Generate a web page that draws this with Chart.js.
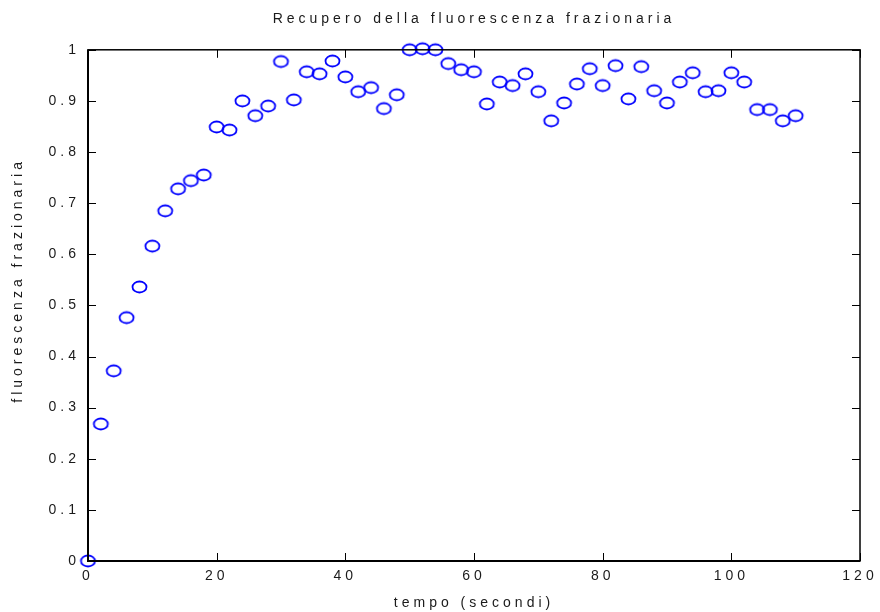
<!DOCTYPE html>
<html>
<head>
<meta charset="utf-8">
<script src="https://cdn.jsdelivr.net/npm/chart.js@4"></script>
<style>
  html, body { margin: 0; padding: 0; background: #fff; }
  #wrap { width: 880px; height: 612px; }
</style>
</head>
<body>
<div id="wrap"><canvas id="recoveryChart"></canvas></div>
<script>
// time (s) and fractional fluorescence recovery
const times = [0, 2, 4, 6, 8, 10, 12, 14, 16, 18, 20, 22, 24, 26, 28, 30, 32, 34, 36, 38,
    40, 42, 44, 46, 48, 50, 52, 54, 56, 58, 60, 62, 64, 66, 68, 70, 72, 74, 76, 78,
    80, 82, 84, 86, 88, 90, 92, 94, 96, 98, 100, 102, 104, 106, 108, 110];
const recovery = [0, 0.268, 0.372, 0.476, 0.536, 0.616, 0.685, 0.728, 0.744, 0.755,
    0.849, 0.843, 0.900, 0.871, 0.890, 0.977, 0.902, 0.957, 0.953, 0.978,
    0.947, 0.918, 0.926, 0.885, 0.912, 1.000, 1.002, 1.000, 0.973, 0.961,
    0.957, 0.894, 0.937, 0.930, 0.953, 0.918, 0.861, 0.896, 0.933, 0.963,
    0.930, 0.969, 0.904, 0.967, 0.920, 0.896, 0.937, 0.955, 0.918, 0.920,
    0.955, 0.937, 0.883, 0.883, 0.861, 0.871];

const xTicks = [0, 20, 40, 60, 80, 100, 120];
const yTicks = [0, 0.1, 0.2, 0.3, 0.4, 0.5, 0.6, 0.7, 0.8, 0.9, 1];

const yTitle = 'fluorescenza frazionaria';

const fontFamily = "'Liberation Sans Narrow', 'Liberation Sans', Arial, sans-serif";
const textColor = '#1a1a1a';

// matlab-like 'o' marker (slightly wide ellipse)
function makeMarker() {
    const c = document.createElement('canvas');
    c.width = 19;
    c.height = 16;
    const g = c.getContext('2d');
    g.strokeStyle = '#0000ff';
    g.lineWidth = 1.8;
    g.beginPath();
    g.ellipse(9.5, 8, 7, 5.5, 0, 0, Math.PI * 2);
    g.stroke();
    return c;
}

const spacingPlugin = {
    id: 'spacing',
    beforeLayout(chart) { chart.ctx.letterSpacing = '4px'; },
    beforeDraw(chart) { chart.ctx.letterSpacing = '4px'; }
};

// box around the axes with inward ticks, plus the y label
const boxPlugin = {
    id: 'box',
    afterDraw(chart) {
        const ctx = chart.ctx;
        const a = chart.chartArea;
        const xs = chart.scales.x, ys = chart.scales.y;
        ctx.save();
        ctx.strokeStyle = '#000';
        ctx.lineWidth = 1;
        ctx.beginPath();
        xTicks.forEach(v => {
            const px = Math.round(xs.getPixelForValue(v)) + 0.5;
            ctx.moveTo(px, a.bottom); ctx.lineTo(px, a.bottom - 8);
            ctx.moveTo(px, a.top); ctx.lineTo(px, a.top + 8);
        });
        yTicks.forEach(v => {
            const py = Math.round(ys.getPixelForValue(v)) + 0.5;
            ctx.moveTo(a.left, py); ctx.lineTo(a.left + 8, py);
            ctx.moveTo(a.right, py); ctx.lineTo(a.right - 8, py);
        });
        ctx.stroke();
        ctx.lineWidth = 1.5;
        ctx.strokeRect(a.left, a.top, a.right - a.left, a.bottom - a.top);
        ctx.lineWidth = 2;
        ctx.beginPath();
        ctx.moveTo(a.left, a.top); ctx.lineTo(a.left, a.bottom); ctx.lineTo(a.right, a.bottom);
        ctx.stroke();

        // y axis label, sits a bit above the middle like the original
        ctx.translate(18, (a.top + a.bottom) / 2 - 25);
        ctx.rotate(-Math.PI / 2);
        ctx.font = '14px ' + fontFamily;
        ctx.fillStyle = textColor;
        ctx.textAlign = 'center';
        ctx.textBaseline = 'middle';
        ctx.fillText(yTitle, 0, 0);
        ctx.restore();
    }
};

const ctx = document.getElementById('recoveryChart').getContext('2d');
new Chart(ctx, {
    type: 'scatter',
    data: {
        datasets: [{
            label: 'recupero',
            data: times.map((t, i) => ({ x: t, y: recovery[i] })),
            pointStyle: makeMarker(),
            clip: false
        }]
    },
    options: {
        responsive: true,
        maintainAspectRatio: false,
        animation: false,
        layout: { padding: { left: 0, right: 20, top: 0, bottom: 0 } },
        plugins: {
            legend: { display: false },
            tooltip: { enabled: false },
            title: {
                display: true,
                fullSize: false,
                text: 'Recupero della fluorescenza frazionaria',
                color: textColor,
                font: { family: fontFamily, size: 14, weight: 'normal' },
                padding: { top: 11, bottom: 22 }
            }
        },
        scales: {
            x: {
                type: 'linear',
                min: 0,
                max: 120,
                afterFit(scale) {
                    scale.height = 51;
                    scale.paddingLeft = 0;
                    scale.paddingRight = 0;
                },
                afterBuildTicks(scale) { scale.ticks = xTicks.map(v => ({ value: v })); },
                grid: { display: false, drawTicks: false },
                border: { display: false },
                ticks: {
                    color: textColor,
                    padding: 7,
                    font: { family: fontFamily, size: 14 },
                    maxRotation: 0,
                    callback: v => String(v)
                },
                title: {
                    display: true,
                    text: 'tempo (secondi)',
                    color: textColor,
                    font: { family: fontFamily, size: 14 },
                    padding: { top: 2, bottom: 0 }
                }
            },
            y: {
                type: 'linear',
                min: 0,
                max: 1,
                afterFit(scale) {
                    scale.width = 88;
                    scale.paddingTop = 0;
                    scale.paddingBottom = 0;
                },
                afterBuildTicks(scale) { scale.ticks = yTicks.map(v => ({ value: v })); },
                grid: { display: false, drawTicks: false },
                border: { display: false },
                ticks: {
                    color: textColor,
                    padding: 8,
                    font: { family: fontFamily, size: 14 },
                    callback: v => String(+v.toFixed(1))
                }
            }
        }
    },
    plugins: [spacingPlugin, boxPlugin]
});
</script>
</body>
</html>
